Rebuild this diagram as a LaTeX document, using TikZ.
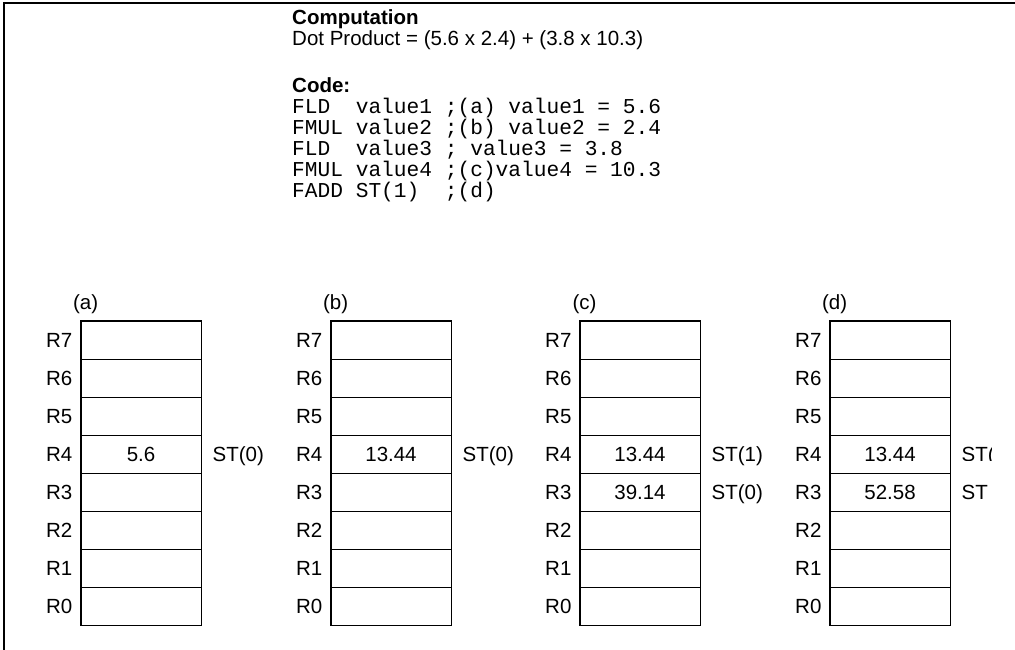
\documentclass[tikz,border=0pt]{standalone}
\usepackage{fontspec}
\setmainfont{Liberation Sans}
\setmonofont{Liberation Mono}
\usetikzlibrary{positioning}

\begin{document}
\begin{tikzpicture}[
    x=1pt, y=-1pt,
    txt/.style={inner sep=0pt, text height=14.7pt, text depth=0pt, font=\fontsize{20.5}{22}\selectfont},
    head/.style={txt, font=\fontsize{20.5}{22}\selectfont\bfseries},
    codeline/.style={inner sep=0pt, anchor=west, text height=12.5pt, text depth=0pt, font=\fontsize{21.2}{21}\selectfont\ttfamily},
    cell/.style={rectangle, draw, line width=0.8pt, minimum width=120pt, minimum height=38pt, inner sep=0pt},
    reglabel/.style={txt, anchor=east},
    stlabel/.style={txt, anchor=west},
    stack/.style={draw, line width=1.8pt},
    frame/.style={line width=2pt}
]
\useasboundingbox (0,0) rectangle (1015,650);
\draw[frame] (4,650) -- (4,3) -- (1015,3);

% Computation and code
\node[head, anchor=west] (title) at (292,17) {Computation};
\node[txt, anchor=west] (dotprod) at (292,38) {Dot Product = (5.6 x 2.4) + (3.8 x 10.3)};
\node[head, anchor=west] (codehead) at (292,85) {Code:};
\node[codeline] (code1) at (292,107) {FLD~ value1 ;(a) value1 = 5.6};
\node[codeline] (code2) at (292,128) {FMUL value2 ;(b) value2 = 2.4};
\node[codeline] (code3) at (292,149) {FLD~ value3 ; value3 = 3.8};
\node[codeline] (code4) at (292,170) {FMUL value4 ;(c)value4 = 10.3};
\node[codeline] (code5) at (292,191) {FADD ST(1)~ ;(d)};

% Register stacks
\foreach \s/\L in {a/81, b/331, c/580, d/830} {
    \foreach \r in {7,...,0} {
        \node[cell] (\s\r) at ({\L+60}, {340+(7-\r)*38}) {};
        \node[reglabel] (r\s\r) at ([xshift=-8pt]\s\r.west) {R\r};
    }
    \draw[stack] (\s7.north west) rectangle (\s0.south east);
    \node[txt] (lbl\s) at ([xshift=5pt, yshift=18pt]\s7.north west) {(\s)};
}

% Stack contents
\node[txt] (va4) at (a4) {5.6};
\node[txt] (vb4) at (b4) {13.44};
\node[txt] (vc4) at (c4) {13.44};
\node[txt] (vc3) at (c3) {39.14};
\node[txt] (vd4) at (d4) {13.44};
\node[txt] (vd3) at (d3) {52.58};

\node[stlabel] (sta) at ([xshift=11pt]a4.east) {ST(0)};
\node[stlabel] (stb) at ([xshift=11pt]b4.east) {ST(0)};
\node[stlabel] (stc1) at ([xshift=11pt]c4.east) {ST(1)};
\node[stlabel] (stc0) at ([xshift=11pt]c3.east) {ST(0)};
\begin{scope}
    \clip (0,0) rectangle (991,460);
    \node[stlabel] (std1) at ([xshift=11pt]d4.east) {ST(1)};
\end{scope}
\begin{scope}
    \clip (0,460) rectangle (988,650);
    \node[stlabel] (std0) at ([xshift=11pt]d3.east) {ST(0)};
\end{scope}
\end{tikzpicture}
\end{document}
